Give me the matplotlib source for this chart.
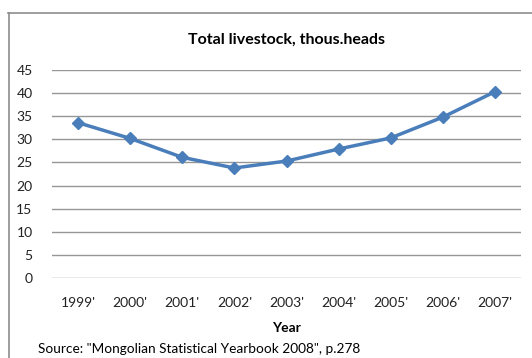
import matplotlib.pyplot as plt
from matplotlib.lines import Line2D

years = ["1999'", "2000'", "2001'", "2002'", "2003'", "2004'", "2005'", "2006'", "2007'"]
livestock = [33.6, 30.2, 26.1, 23.8, 25.3, 27.9, 30.3, 34.8, 40.3]

plt.rcParams['font.family'] = ['Lato', 'DejaVu Sans']

W, H = 532, 358
fig = plt.figure(figsize=(W / 100, H / 100), dpi=100)
ax = fig.add_axes([52 / W, 1 - 278 / H, (521 - 52) / W, (278 - 70) / H])

x = range(len(years))
ax.plot(x, livestock, color='#4a7ebb', linewidth=2.5, marker='D', markersize=6)
ax.set_xlim(-0.5, len(years) - 0.5)
ax.set_ylim(0, 45)
ax.set_yticks(range(0, 46, 5))
ax.set_xticks(list(x))
ax.set_xticklabels(years)
ax.grid(axis='y', color='#969696', linewidth=1)
ax.set_axisbelow(True)
for s in ax.spines.values():
    s.set_visible(False)
ax.tick_params(length=0, labelsize=10, colors='#222222')
ax.tick_params(axis='x', pad=14)
ax.tick_params(axis='y', pad=14)
ax.set_xlabel("Year", fontsize=10, fontweight='bold', labelpad=9)

fig.text((52 + 521) / 2 / W, 1 - 40 / H, "Total livestock, thous.heads",
         ha='center', va='center', fontsize=11.5, fontweight='bold')
fig.text(38 / W, 1 - 349 / H, 'Source: "Mongolian Statistical Yearbook 2008", p.278',
         ha='left', va='center', fontsize=9.8)

# chart frame
fig.add_artist(Line2D([8 / W, 1], [1 - 12.5 / H] * 2, color='#8c8c8c', linewidth=1.2))
fig.add_artist(Line2D([8.5 / W] * 2, [0, 1 - 12.5 / H], color='#8c8c8c', linewidth=1.2))

fig.savefig("out.png", dpi=100)
